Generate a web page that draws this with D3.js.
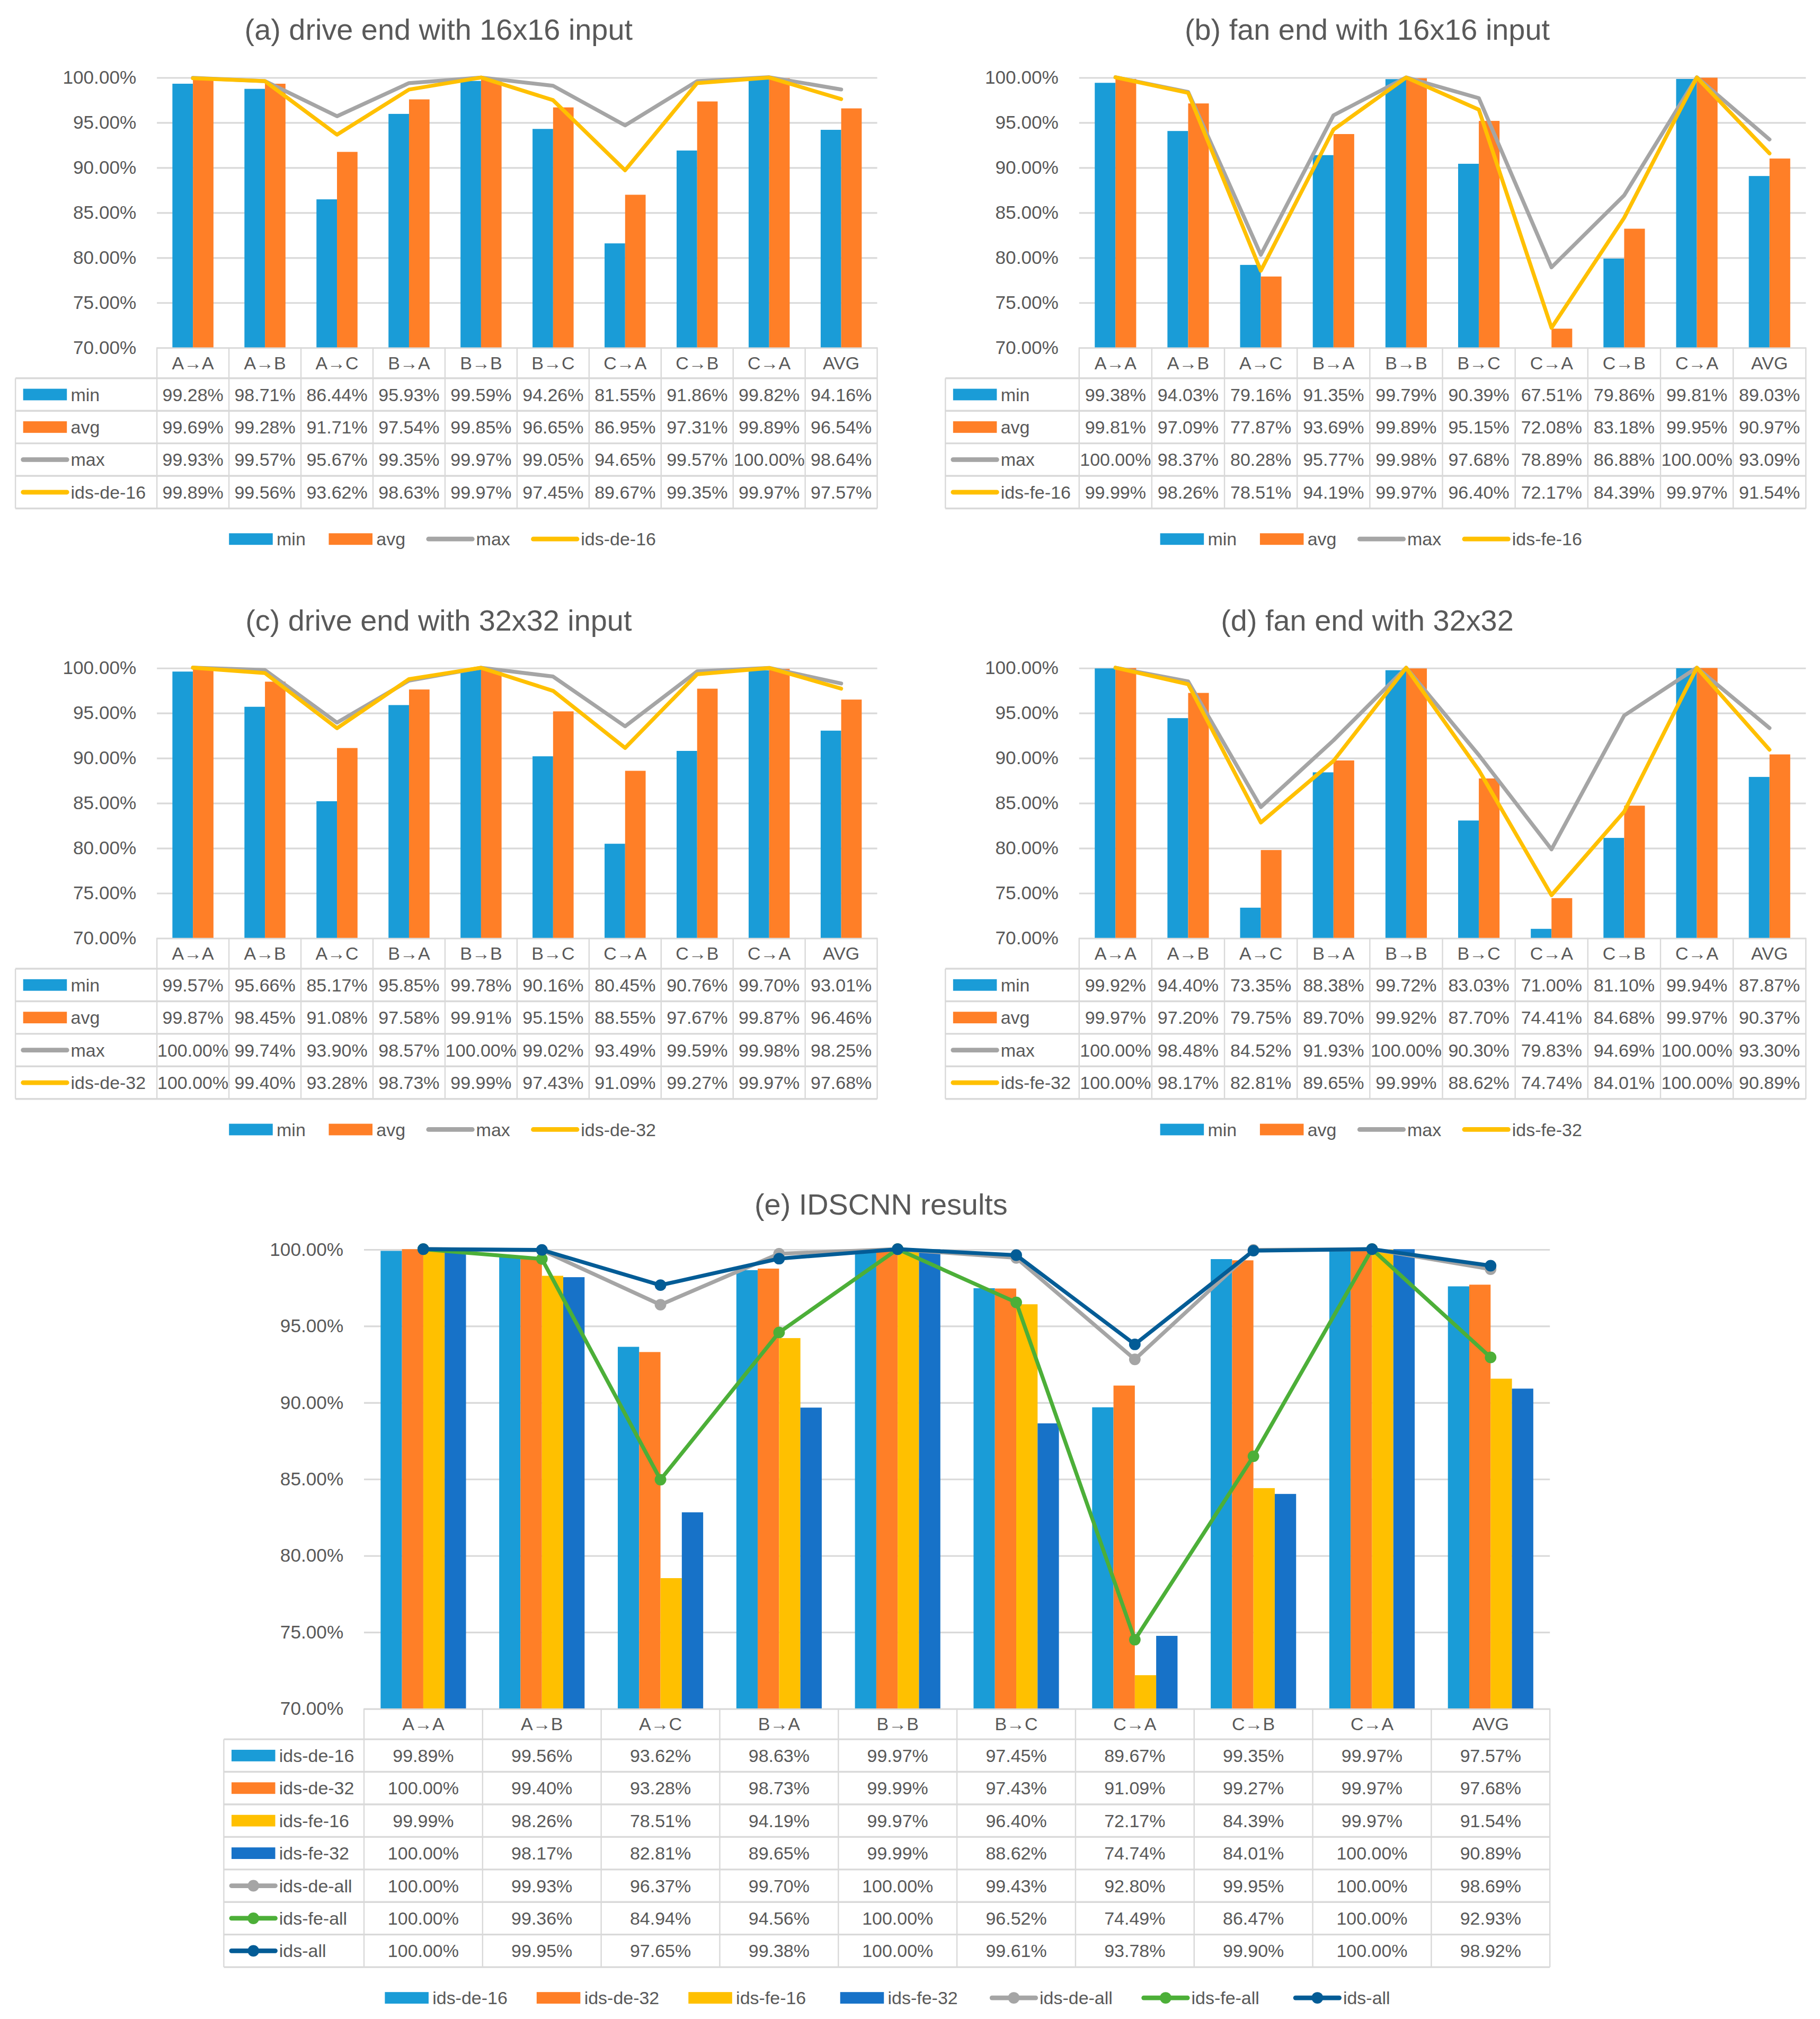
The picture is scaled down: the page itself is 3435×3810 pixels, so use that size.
<!DOCTYPE html>
<html>
<head>
<meta charset="utf-8">
<script src="https://cdn.jsdelivr.net/npm/d3@7"></script>
<style>
  html, body { margin: 0; padding: 0; background: #fff; }
</style>
</head>
<body>
<svg id="chart"></svg>
<script>
// ---- data ----
const categories = ['A→A', 'A→B', 'A→C', 'B→A', 'B→B', 'B→C', 'C→A', 'C→B', 'C→A', 'AVG'];
const yTicks = [70, 75, 80, 85, 90, 95, 100];

// (a) drive end, 16x16
const deMin16 = [99.28, 98.71, 86.44, 95.93, 99.59, 94.26, 81.55, 91.86, 99.82, 94.16];
const deAvg16 = [99.69, 99.28, 91.71, 97.54, 99.85, 96.65, 86.95, 97.31, 99.89, 96.54];
const deMax16 = [99.93, 99.57, 95.67, 99.35, 99.97, 99.05, 94.65, 99.57, 100.00, 98.64];
const idsDe16 = [99.89, 99.56, 93.62, 98.63, 99.97, 97.45, 89.67, 99.35, 99.97, 97.57];

// (b) fan end, 16x16
const feMin16 = [99.38, 94.03, 79.16, 91.35, 99.79, 90.39, 67.51, 79.86, 99.81, 89.03];
const feAvg16 = [99.81, 97.09, 77.87, 93.69, 99.89, 95.15, 72.08, 83.18, 99.95, 90.97];
const feMax16 = [100.00, 98.37, 80.28, 95.77, 99.98, 97.68, 78.89, 86.88, 100.00, 93.09];
const idsFe16 = [99.99, 98.26, 78.51, 94.19, 99.97, 96.40, 72.17, 84.39, 99.97, 91.54];

// (c) drive end, 32x32
const deMin32 = [99.57, 95.66, 85.17, 95.85, 99.78, 90.16, 80.45, 90.76, 99.70, 93.01];
const deAvg32 = [99.87, 98.45, 91.08, 97.58, 99.91, 95.15, 88.55, 97.67, 99.87, 96.46];
const deMax32 = [100.00, 99.74, 93.90, 98.57, 100.00, 99.02, 93.49, 99.59, 99.98, 98.25];
const idsDe32 = [100.00, 99.40, 93.28, 98.73, 99.99, 97.43, 91.09, 99.27, 99.97, 97.68];

// (d) fan end, 32x32
const feMin32 = [99.92, 94.40, 73.35, 88.38, 99.72, 83.03, 71.00, 81.10, 99.94, 87.87];
const feAvg32 = [99.97, 97.20, 79.75, 89.70, 99.92, 87.70, 74.41, 84.68, 99.97, 90.37];
const feMax32 = [100.00, 98.48, 84.52, 91.93, 100.00, 90.30, 79.83, 94.69, 100.00, 93.30];
const idsFe32 = [100.00, 98.17, 82.81, 89.65, 99.99, 88.62, 74.74, 84.01, 100.00, 90.89];

// (e) IDSCNN combined
const idsDeAll = [100.00, 99.93, 96.37, 99.70, 100.00, 99.43, 92.80, 99.95, 100.00, 98.69];
const idsFeAll = [100.00, 99.36, 84.94, 94.56, 100.00, 96.52, 74.49, 86.47, 100.00, 92.93];
const idsAll   = [100.00, 99.95, 97.65, 99.38, 100.00, 99.61, 93.78, 99.90, 100.00, 98.92];

// ---- styling ----
const FONT = '"Liberation Sans", Arial, sans-serif';
const TEXT = '#595959';
const GRID = '#D9D9D9';
const C = {
  blue: '#1A9CD7', orange: '#FF7F27', gray: '#A5A5A5', yellow: '#FFC000',
  dblue: '#1772C8', green: '#4CAF38', navy: '#035C96'
};
const pct = v => d3.format('.2f')(v) + '%';

const svg = d3.select('#chart')
  .attr('width', 3435)
  .attr('height', 3810)
  .attr('viewBox', '0 0 1415 1569.4')
  .style('font-family', FONT);

const small = (title, dy, left, right, tableLeft, titleX, series) => ({
  title, titleX, titleY: 23 + dy, left, right, top: 60 + dy, bottom: 270 + dy,
  tableLeft, headH: 24, rowH: 25.3, pad: 0.43, legendX: titleX + 3, legendY: 419 + dy,
  series
});

const panels = [
  small('(a) drive end with 16x16 input', 0, 122, 682, 12, 341, [
    { name: 'min', values: deMin16, type: 'bar', color: C.blue },
    { name: 'avg', values: deAvg16, type: 'bar', color: C.orange },
    { name: 'max', values: deMax16, type: 'line', color: C.gray },
    { name: 'ids-de-16', values: idsDe16, type: 'line', color: C.yellow }
  ]),
  small('(b) fan end with 16x16 input', 0, 839, 1404, 735, 1063, [
    { name: 'min', values: feMin16, type: 'bar', color: C.blue },
    { name: 'avg', values: feAvg16, type: 'bar', color: C.orange },
    { name: 'max', values: feMax16, type: 'line', color: C.gray },
    { name: 'ids-fe-16', values: idsFe16, type: 'line', color: C.yellow }
  ]),
  small('(c) drive end with 32x32 input', 459, 122, 682, 12, 341, [
    { name: 'min', values: deMin32, type: 'bar', color: C.blue },
    { name: 'avg', values: deAvg32, type: 'bar', color: C.orange },
    { name: 'max', values: deMax32, type: 'line', color: C.gray },
    { name: 'ids-de-32', values: idsDe32, type: 'line', color: C.yellow }
  ]),
  small('(d) fan end with 32x32', 459, 839, 1404, 735, 1063, [
    { name: 'min', values: feMin32, type: 'bar', color: C.blue },
    { name: 'avg', values: feAvg32, type: 'bar', color: C.orange },
    { name: 'max', values: feMax32, type: 'line', color: C.gray },
    { name: 'ids-fe-32', values: idsFe32, type: 'line', color: C.yellow }
  ]),
  {
    title: '(e) IDSCNN results', titleX: 685, titleY: 936,
    left: 283, right: 1205, top: 971, bottom: 1328,
    tableLeft: 174, headH: 24, rowH: 25.3, pad: 0.28, legendX: 690, legendY: 1553,
    legendItemW: 118,
    series: [
      { name: 'ids-de-16', values: idsDe16, type: 'bar', color: C.blue },
      { name: 'ids-de-32', values: idsDe32, type: 'bar', color: C.orange },
      { name: 'ids-fe-16', values: idsFe16, type: 'bar', color: C.yellow },
      { name: 'ids-fe-32', values: idsFe32, type: 'bar', color: C.dblue },
      { name: 'ids-de-all', values: idsDeAll, type: 'line', color: C.gray, marker: true },
      { name: 'ids-fe-all', values: idsFeAll, type: 'line', color: C.green, marker: true },
      { name: 'ids-all', values: idsAll, type: 'line', color: C.navy, marker: true }
    ]
  }
];

// legend key (swatch) drawn at (x0, yc)
function drawKey(g, s, x0, yc) {
  if (s.type === 'bar') {
    g.append('rect').attr('x', x0).attr('y', yc - 4.5).attr('width', 34).attr('height', 9).attr('fill', s.color);
  } else {
    g.append('line').attr('x1', x0).attr('x2', x0 + 34).attr('y1', yc).attr('y2', yc)
      .attr('stroke', s.color).attr('stroke-width', 3.6).attr('stroke-linecap', 'round');
    if (s.marker) g.append('circle').attr('cx', x0 + 17).attr('cy', yc).attr('r', 4.5).attr('fill', s.color);
  }
}

function drawPanel(p) {
  const g = svg.append('g');
  const n = categories.length;
  const x = d3.scaleBand().domain(d3.range(n)).range([p.left, p.right])
    .paddingInner(p.pad).paddingOuter(p.pad / 2);
  const step = x.step();
  const bars = p.series.filter(s => s.type === 'bar');
  const lines = p.series.filter(s => s.type === 'line');
  const xs = d3.scaleBand().domain(bars.map(s => s.name)).range([0, x.bandwidth()]);
  const y = d3.scaleLinear().domain([70, 100]).range([p.bottom, p.top]);

  // title
  g.append('text').attr('x', p.titleX).attr('y', p.titleY + 8).attr('text-anchor', 'middle')
    .attr('fill', TEXT).style('font-size', '23px').text(p.title);

  // y axis with gridlines
  g.append('g').attr('transform', `translate(${p.left},0)`)
    .call(d3.axisLeft(y).tickValues(yTicks).tickSize(-(p.right - p.left)).tickPadding(16).tickFormat(pct))
    .call(a => {
      a.select('.domain').remove();
      a.selectAll('.tick line').attr('stroke', GRID).attr('stroke-width', 1.3);
      a.selectAll('.tick text').attr('fill', TEXT).style('font-size', '14.5px').style('font-family', FONT);
    });

  // bars
  bars.forEach(s => {
    g.append('g').selectAll('rect').data(s.values).join('rect')
      .attr('x', (d, i) => x(i) + xs(s.name))
      .attr('width', xs.bandwidth())
      .attr('y', d => y(Math.max(d, 70)))
      .attr('height', d => Math.max(0, y(70) - y(d)))
      .attr('fill', s.color);
  });

  // lines
  const line = d3.line().x((d, i) => x(i) + x.bandwidth() / 2).y(d => y(d));
  lines.forEach(s => {
    g.append('path').datum(s.values).attr('d', line).attr('fill', 'none')
      .attr('stroke', s.color).attr('stroke-width', 3)
      .attr('stroke-linejoin', 'round').attr('stroke-linecap', 'round');
    if (s.marker) {
      g.append('g').selectAll('circle').data(s.values).join('circle')
        .attr('cx', (d, i) => x(i) + x.bandwidth() / 2).attr('cy', d => y(d))
        .attr('r', 4.5).attr('fill', s.color);
    }
  });

  // data table
  const t = g.append('g');
  const rowTop = p.bottom + p.headH;
  const tableBottom = rowTop + p.rowH * p.series.length;
  const border = (x1, y1, x2, y2, w) => t.append('line').attr('x1', x1).attr('y1', y1).attr('x2', x2).attr('y2', y2)
    .attr('stroke', GRID).attr('stroke-width', w);

  d3.range(n + 1).forEach(i => border(p.left + i * step, p.bottom, p.left + i * step, tableBottom, 1));
  border(p.tableLeft, rowTop, p.tableLeft, tableBottom, 1);
  d3.range(p.series.length + 1).forEach(r => border(p.tableLeft, rowTop + r * p.rowH, p.right, rowTop + r * p.rowH, 1.4));

  t.append('g').selectAll('text').data(categories).join('text')
    .attr('x', (d, i) => p.left + (i + 0.5) * step).attr('y', p.bottom + p.headH / 2 + 5)
    .attr('text-anchor', 'middle').attr('fill', TEXT).style('font-size', '14px').text(d => d);

  p.series.forEach((s, r) => {
    const yc = rowTop + (r + 0.5) * p.rowH;
    drawKey(t, s, p.tableLeft + 6, yc);
    t.append('text').attr('x', p.tableLeft + 43).attr('y', yc + 5).attr('fill', TEXT)
      .style('font-size', '14px').text(s.name);
    t.append('g').selectAll('text').data(s.values).join('text')
      .attr('x', (d, i) => p.left + (i + 0.5) * step).attr('y', yc + 5)
      .attr('text-anchor', 'middle').attr('fill', TEXT).style('font-size', '14px').text(pct);
  });

  // bottom legend, centred on legendX
  const lg = g.append('g');
  let cx = 0, lastW = 0;
  p.series.forEach(s => {
    drawKey(lg, s, cx, p.legendY);
    const txt = lg.append('text').attr('x', cx + 37).attr('y', p.legendY + 5).attr('fill', TEXT)
      .style('font-size', '14px').text(s.name);
    lastW = 37 + txt.node().getComputedTextLength();
    cx += p.legendItemW || (lastW + 18);
  });
  const total = cx - (p.legendItemW || (lastW + 18)) + lastW;
  lg.attr('transform', `translate(${p.legendX - total / 2},0)`);
}

panels.forEach(drawPanel);
</script>
</body>
</html>
